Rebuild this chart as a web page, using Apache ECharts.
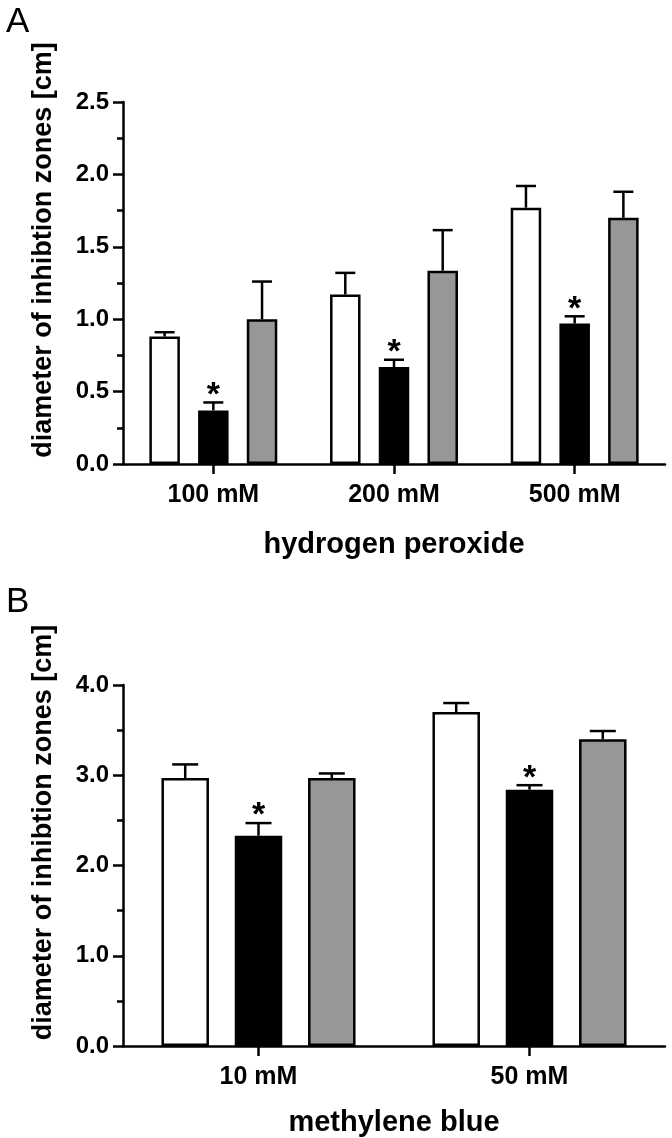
<!DOCTYPE html>
<html>
<head>
<meta charset="utf-8">
<script src="https://cdn.jsdelivr.net/npm/echarts@6/dist/echarts.min.js"></script>
<style>
html,body{margin:0;padding:0;background:#fff;}
#chart{width:672px;height:1138px;}
</style>
</head>
<body>
<div id="chart"></div>
<script>
// ---- Data ----
const categoriesA = ['100 mM', '200 mM', '500 mM'];
const whiteA = [0.88, 1.17, 1.77];
const whiteErrA = [0.03, 0.15, 0.15];
const blackA = [0.37, 0.67, 0.97];
const blackErrA = [0.055, 0.05, 0.05];
const grayA = [1.00, 1.335, 1.70];
const grayErrA = [0.26, 0.28, 0.18];
const starsA = [true, true, true];
const yTicksA = [0, 0.5, 1.0, 1.5, 2.0, 2.5];

const categoriesB = ['10 mM', '50 mM'];
const whiteB = [2.97, 3.70];
const whiteErrB = [0.15, 0.10];
const blackB = [2.33, 2.84];
const blackErrB = [0.14, 0.05];
const grayB = [2.97, 3.40];
const grayErrB = [0.05, 0.09];
const starsB = [true, true];
const yTicksB = [0, 1.0, 2.0, 3.0, 4.0];

const xNameA = 'hydrogen peroxide';
const xNameB = 'methylene blue';
const yName = 'diameter of inhibtion zones [cm]';

// ---- Style ----
const FONT = '"Liberation Sans", Arial, sans-serif';
const BORDER = 2.5;
const bwA = 30.5, gapA = 0.597;
const bwB = 47.5, gapB = 0.543;
const GRAY = '#979797';

const chart = echarts.init(document.getElementById('chart'), null, {renderer: 'canvas'});

function yAxisCfg(gridIndex, ticks) {
  const max = ticks[ticks.length - 1];
  const interval = ticks[1] - ticks[0];
  return {
    type: 'value', gridIndex: gridIndex, min: ticks[0], max: max, interval: interval,
    name: yName, nameLocation: 'middle', nameGap: 66, nameRotate: 90,
    nameTextStyle: {fontFamily: FONT, fontWeight: 'bold', fontSize: 27, color: '#000', padding: [0, 0, 0, 66]},
    axisLine: {show: true, lineStyle: {color: '#000', width: 2.5}},
    axisTick: {show: true, length: 10, lineStyle: {color: '#000', width: 2.5}},
    minorTick: {show: true, splitNumber: 2, length: 6, lineStyle: {color: '#000', width: 2.5}},
    splitLine: {show: false},
    axisLabel: {fontFamily: FONT, fontWeight: 'bold', fontSize: 24, color: '#000', margin: 14,
      formatter: v => v.toFixed(1)}
  };
}
function xAxisCfg(gridIndex, cats, name, gap) {
  return {
    type: 'category', gridIndex: gridIndex, data: cats,
    name: name, nameLocation: 'middle', nameGap: gap,
    nameTextStyle: {fontFamily: FONT, fontWeight: 'bold', fontSize: 29, color: '#000'},
    axisLine: {show: true, lineStyle: {color: '#000', width: 2.5}},
    axisTick: {show: true, alignWithLabel: true, length: 10, lineStyle: {color: '#000', width: 2.5}},
    axisLabel: {fontFamily: FONT, fontWeight: 'bold', fontSize: 25, color: '#000', margin: 19},
    splitLine: {show: false}
  };
}
function barSeries(gi, data, color, bw, gap) {
  return {
    type: 'bar', xAxisIndex: gi, yAxisIndex: gi, data: data, barWidth: bw, barGap: (gap * 100) + '%',
    itemStyle: {color: color, borderColor: '#000', borderWidth: BORDER},
    z: 2, silent: true
  };
}
function errSeries(gi, vals, errs, pos, bw, gap, capW, stars) {
  const spacing = bw * (1 + gap);
  const data = vals.map((v, i) => [i, v, errs[i], stars ? (stars[i] ? 1 : 0) : 0]);
  return {
    type: 'custom', xAxisIndex: gi, yAxisIndex: gi, data: data, z: 3, silent: true,
    encode: {x: 0, y: 1},
    renderItem: function (params, api) {
      const idx = api.value(0), v = api.value(1), e = api.value(2), star = api.value(3);
      const base = api.coord([idx, v]);
      const top = api.coord([idx, v + e]);
      const x = base[0] + pos * spacing;
      const children = [
        {type: 'line', shape: {x1: x, y1: base[1], x2: x, y2: top[1]}, style: {stroke: '#000', lineWidth: 2.5}},
        {type: 'line', shape: {x1: x - capW / 2, y1: top[1], x2: x + capW / 2, y2: top[1]}, style: {stroke: '#000', lineWidth: 2.5}}
      ];
      if (star) {
        children.push({type: 'text', style: {text: '*', x: x, y: top[1] - 7, align: 'center', verticalAlign: 'middle',
          fontFamily: FONT, fontWeight: 'bold', fontSize: 34, fill: '#000'}});
      }
      return {type: 'group', children: children};
    }
  };
}

const option = {
  animation: false,
  backgroundColor: '#fff',
  title: [
    {text: 'A', left: 1, top: 0, textStyle: {fontFamily: FONT, fontWeight: 'normal', fontSize: 35, color: '#000'}},
    {text: 'B', left: 1, top: 580, textStyle: {fontFamily: FONT, fontWeight: 'normal', fontSize: 35, color: '#000'}}
  ],
  grid: [
    {left: 123, right: 7, top: 102, height: 362},
    {left: 123, right: 7, top: 685, height: 362}
  ],
  xAxis: [xAxisCfg(0, categoriesA, xNameA, 66), xAxisCfg(1, categoriesB, xNameB, 62)],
  yAxis: [yAxisCfg(0, yTicksA), yAxisCfg(1, yTicksB)],
  series: [
    barSeries(0, whiteA, '#fff', bwA, gapA),
    barSeries(0, blackA, '#000', bwA, gapA),
    barSeries(0, grayA, GRAY, bwA, gapA),
    errSeries(0, whiteA, whiteErrA, -1, bwA, gapA, 20, null),
    errSeries(0, blackA, blackErrA, 0, bwA, gapA, 20, starsA),
    errSeries(0, grayA, grayErrA, 1, bwA, gapA, 20, null),
    barSeries(1, whiteB, '#fff', bwB, gapB),
    barSeries(1, blackB, '#000', bwB, gapB),
    barSeries(1, grayB, GRAY, bwB, gapB),
    errSeries(1, whiteB, whiteErrB, -1, bwB, gapB, 26, null),
    errSeries(1, blackB, blackErrB, 0, bwB, gapB, 26, starsB),
    errSeries(1, grayB, grayErrB, 1, bwB, gapB, 26, null)
  ]
};
chart.setOption(option);
</script>
</body>
</html>
